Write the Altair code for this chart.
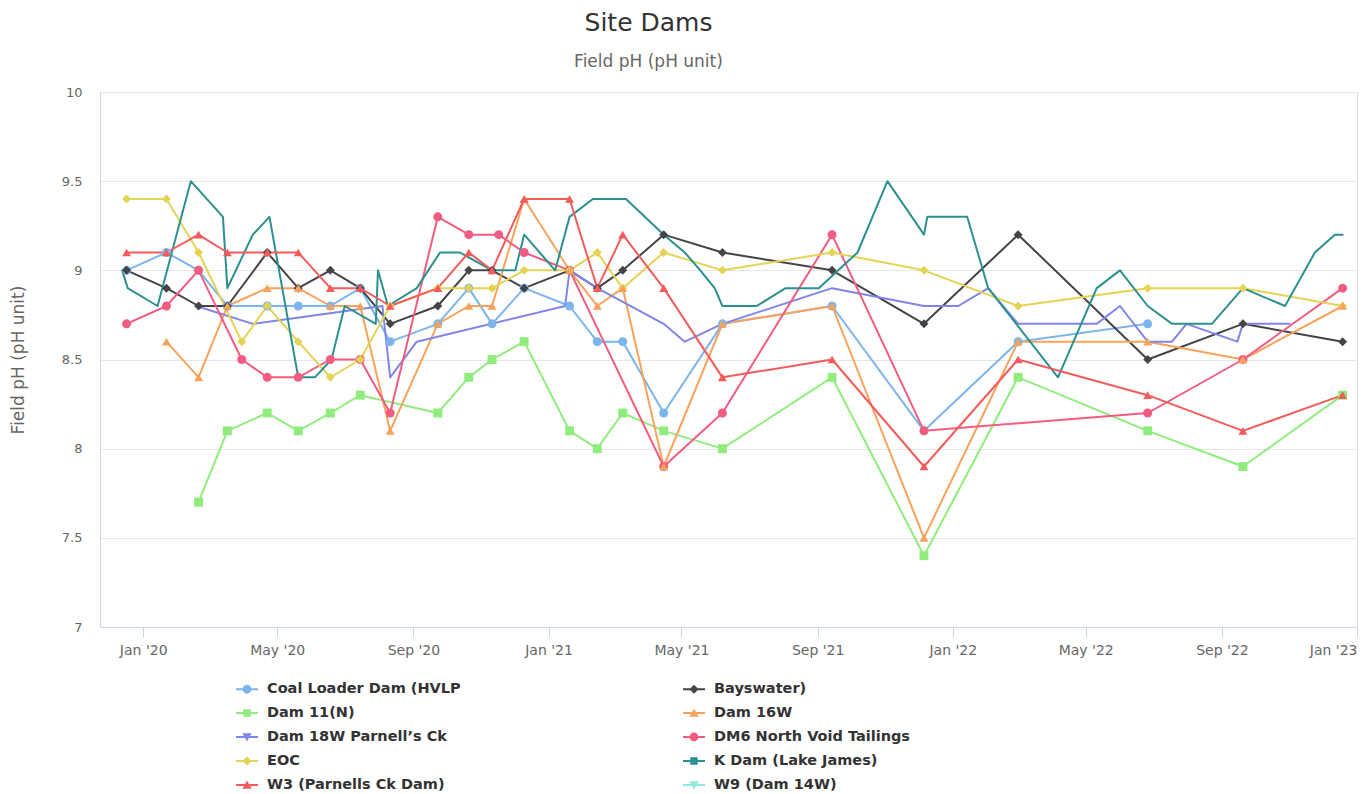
import altair as alt
import pandas as pd

# ---------------- data ----------------
series_names = [
    "Coal Loader Dam (HVLP", "Bayswater)", "Dam 11(N)", "Dam 16W",
    "Dam 18W Parnell\u2019s Ck", "DM6 North Void Tailings", "EOC",
    "K Dam (Lake James)", "W3 (Parnells Ck Dam)", "W9 (Dam 14W)",
]
series_colors = ["#7cb5ec", "#434348", "#90ed7d", "#f7a35c", "#8085e9",
                 "#f15c80", "#e4d354", "#2b908f", "#f45b5b", "#91e8e1"]
point_shapes = ["circle", "diamond", "square", "triangle-up", "triangle-down",
                "circle", "diamond", "square", "triangle-up", "triangle-down"]
# legend symbols: short line (thin filled bar) with marker, all drawn clockwise
BAR = "M-1,-0.09H1V0.09H-1Z"
shape_paths = {
    "circle": "M-0.4,0A0.4,0.4,0,1,1,0.4,0A0.4,0.4,0,1,1,-0.4,0Z",
    "diamond": "M0,-0.42L0.42,0L0,0.42L-0.42,0Z",
    "square": "M-0.34,-0.34H0.34V0.34H-0.34Z",
    "triangle-up": "M0,-0.42L0.42,0.34L-0.42,0.34Z",
    "triangle-down": "M0,0.42L-0.42,-0.34L0.42,-0.34Z",
}
legend_paths = [BAR + shape_paths[s] for s in point_shapes]
dense_series = ["Dam 18W Parnell\u2019s Ck", "K Dam (Lake James)"]

coal_dates = ["2019-12-17", "2020-01-22", "2020-02-20", "2020-03-17", "2020-04-22",
              "2020-05-20", "2020-06-18", "2020-07-15", "2020-08-11", "2020-09-23",
              "2020-10-21", "2020-11-11", "2020-12-10", "2021-01-20", "2021-02-14",
              "2021-03-09", "2021-04-15", "2021-06-07", "2021-09-14", "2021-12-06",
              "2022-03-01", "2022-06-26"]
coal_ph = [9.0, 9.1, 9.0, 8.8, 8.8, 8.8, 8.8, 8.9, 8.6, 8.7, 8.9, 8.7, 8.9, 8.8,
           8.6, 8.6, 8.2, 8.7, 8.8, 8.1, 8.6, 8.7]

bays_dates = ["2019-12-17", "2020-01-22", "2020-02-20", "2020-03-17", "2020-04-22",
              "2020-05-20", "2020-06-18", "2020-07-15", "2020-08-11", "2020-09-23",
              "2020-10-21", "2020-11-11", "2020-12-10", "2021-01-20", "2021-02-14",
              "2021-03-09", "2021-04-15", "2021-06-07", "2021-09-14", "2021-12-06",
              "2022-03-01", "2022-06-26", "2022-09-20", "2022-12-19"]
bays_ph = [9.0, 8.9, 8.8, 8.8, 9.1, 8.9, 9.0, 8.9, 8.7, 8.8, 9.0, 9.0, 8.9, 9.0,
           8.9, 9.0, 9.2, 9.1, 9.0, 8.7, 9.2, 8.5, 8.7, 8.6]

d11_dates = ["2020-02-20", "2020-03-17", "2020-04-22", "2020-05-20", "2020-06-18",
             "2020-07-15", "2020-09-23", "2020-10-21", "2020-11-11", "2020-12-10",
             "2021-01-20", "2021-02-14", "2021-03-09", "2021-04-15", "2021-06-07",
             "2021-09-14", "2021-12-06", "2022-03-01", "2022-06-26", "2022-09-20",
             "2022-12-19"]
d11_ph = [7.7, 8.1, 8.2, 8.1, 8.2, 8.3, 8.2, 8.4, 8.5, 8.6, 8.1, 8.0, 8.2, 8.1,
          8.0, 8.4, 7.4, 8.4, 8.1, 7.9, 8.3]

d16_dates = ["2020-01-22", "2020-02-20", "2020-03-17", "2020-04-22", "2020-05-20",
             "2020-06-18", "2020-07-15", "2020-08-11", "2020-09-23", "2020-10-21",
             "2020-11-11", "2020-12-10", "2021-01-20", "2021-02-14", "2021-03-09",
             "2021-04-15", "2021-06-07", "2021-09-14", "2021-12-06", "2022-03-01",
             "2022-06-26", "2022-09-20", "2022-12-19"]
d16_ph = [8.6, 8.4, 8.8, 8.9, 8.9, 8.8, 8.8, 8.1, 8.7, 8.8, 8.8, 9.4, 9.0, 8.8,
          8.9, 7.9, 8.7, 8.8, 7.5, 8.6, 8.6, 8.5, 8.8]

d18_dates = ["2020-02-18", "2020-04-09", "2020-08-04", "2020-08-11", "2020-09-04",
             "2021-01-16", "2021-01-20", "2021-02-14", "2021-04-15", "2021-05-04",
             "2021-06-07", "2021-09-14", "2021-12-06", "2022-01-06", "2022-02-02",
             "2022-03-01", "2022-05-11", "2022-06-01", "2022-06-26", "2022-07-18",
             "2022-07-31", "2022-09-15", "2022-09-20", "2022-11-01"]
d18_ph = [8.8, 8.7, 8.8, 8.4, 8.6, 8.8, 9.0, 8.9, 8.7, 8.6, 8.7, 8.9, 8.8, 8.8,
          8.9, 8.7, 8.7, 8.8, 8.6, 8.6, 8.7, 8.6, 8.7, 8.7]

dm6_dates = ["2019-12-17", "2020-01-22", "2020-02-20", "2020-03-30", "2020-04-22",
             "2020-05-20", "2020-06-18", "2020-07-15", "2020-08-11", "2020-09-23",
             "2020-10-21", "2020-11-17", "2020-12-10", "2021-01-20", "2021-04-15",
             "2021-06-07", "2021-09-14", "2021-12-06", "2022-06-26", "2022-09-20",
             "2022-12-19"]
dm6_ph = [8.7, 8.8, 9.0, 8.5, 8.4, 8.4, 8.5, 8.5, 8.2, 9.3, 9.2, 9.2, 9.1, 9.0,
          7.9, 8.2, 9.2, 8.1, 8.2, 8.5, 8.9]

eoc_dates = ["2019-12-17", "2020-01-22", "2020-02-20", "2020-03-30", "2020-04-22",
             "2020-05-20", "2020-06-18", "2020-07-15", "2020-08-11", "2020-09-23",
             "2020-10-21", "2020-11-11", "2020-12-10", "2021-01-20", "2021-02-14",
             "2021-03-09", "2021-04-15", "2021-06-07", "2021-09-14", "2021-12-06",
             "2022-03-01", "2022-06-26", "2022-09-20", "2022-12-19"]
eoc_ph = [9.4, 9.4, 9.1, 8.6, 8.8, 8.6, 8.4, 8.5, 8.8, 8.9, 8.9, 8.9, 9.0, 9.0,
          9.1, 8.9, 9.1, 9.0, 9.1, 9.0, 8.8, 8.9, 8.9, 8.8]

kdam_dates = ["2019-12-13", "2019-12-18", "2020-01-14", "2020-02-13", "2020-03-13",
              "2020-03-17", "2020-04-09", "2020-04-24", "2020-05-20", "2020-06-04",
              "2020-06-19", "2020-07-01", "2020-07-29", "2020-07-31", "2020-08-09",
              "2020-09-04", "2020-09-25", "2020-10-13", "2020-11-11", "2020-12-02",
              "2020-12-10", "2021-01-07", "2021-01-20", "2021-02-10", "2021-03-12",
              "2021-04-15", "2021-05-04", "2021-05-18", "2021-05-31", "2021-06-07",
              "2021-07-08", "2021-08-03", "2021-09-02", "2021-10-07", "2021-11-03",
              "2021-12-06", "2021-12-09", "2022-01-14", "2022-02-02", "2022-04-06",
              "2022-05-11", "2022-06-01", "2022-06-26", "2022-07-18", "2022-08-23",
              "2022-09-20", "2022-10-28", "2022-11-24", "2022-12-12", "2022-12-19"]
kdam_ph = [9.0, 8.9, 8.8, 9.5, 9.3, 8.9, 9.2, 9.3, 8.4, 8.4, 8.5, 8.8, 8.7, 9.0,
           8.8, 8.9, 9.1, 9.1, 9.0, 9.0, 9.2, 9.0, 9.3, 9.4, 9.4, 9.2, 9.1, 9.0,
           8.9, 8.8, 8.8, 8.9, 8.9, 9.1, 9.5, 9.2, 9.3, 9.3, 8.9, 8.4, 8.9, 9.0,
           8.8, 8.7, 8.7, 8.9, 8.8, 9.1, 9.2, 9.2]

w3_dates = ["2019-12-17", "2020-01-22", "2020-02-20", "2020-03-17", "2020-04-22",
            "2020-05-20", "2020-06-18", "2020-07-15", "2020-08-11", "2020-09-23",
            "2020-10-21", "2020-11-11", "2020-12-10", "2021-01-20", "2021-02-14",
            "2021-03-09", "2021-04-15", "2021-06-07", "2021-09-14", "2021-12-06",
            "2022-03-01", "2022-06-26", "2022-09-20", "2022-12-19"]
w3_ph = [9.1, 9.1, 9.2, 9.1, 9.1, 9.1, 8.9, 8.9, 8.8, 8.9, 9.1, 9.0, 9.4, 9.4,
         8.9, 9.2, 8.9, 8.4, 8.5, 7.9, 8.5, 8.3, 8.1, 8.3]

w9_dates = []
w9_ph = []

x_ticks = ["2020-01-01", "2020-05-01", "2020-09-01", "2021-01-01", "2021-05-01",
           "2021-09-01", "2022-01-01", "2022-05-01", "2022-09-01", "2023-01-01"]
y_ticks = [7, 7.5, 8, 8.5, 9, 9.5, 10]

# ---------------- table ----------------
all_series = [
    (series_names[0], coal_dates, coal_ph),
    (series_names[1], bays_dates, bays_ph),
    (series_names[2], d11_dates, d11_ph),
    (series_names[3], d16_dates, d16_ph),
    (series_names[4], d18_dates, d18_ph),
    (series_names[5], dm6_dates, dm6_ph),
    (series_names[6], eoc_dates, eoc_ph),
    (series_names[7], kdam_dates, kdam_ph),
    (series_names[8], w3_dates, w3_ph),
    (series_names[9], w9_dates, w9_ph),
]
rows = []
for i, (name, ds, vs) in enumerate(all_series):
    for d, v in zip(ds, vs):
        rows.append({"site": name, "order": i, "date": d, "ph": v})
df = pd.DataFrame(rows)


def dt(s):
    y, m, d = (int(p) for p in s.split("-"))
    return alt.DateTime(year=y, month=m, date=d, utc=True)


FONT = "DejaVu Sans"

x_enc = alt.X(
    "date:T",
    scale=alt.Scale(type="utc", domain=[dt("2019-11-23"), dt("2023-01-01")]),
    axis=alt.Axis(
        values=[dt(t) for t in x_ticks], format="%b '%y", title=None,
        grid=False, domainColor="#ccd6eb", tickColor="#ccd6eb", tickSize=10,
        labelColor="#666666", labelFontSize=14, labelFont=FONT, labelPadding=6,
        labelFlush=True, labelOverlap=False,
    ),
)
y_enc = alt.Y(
    "ph:Q",
    scale=alt.Scale(domain=[7, 10], nice=False, zero=False),
    axis=alt.Axis(
        values=y_ticks, format=".1~f", title="Field pH (pH unit)",
        titleColor="#666666", titleFontSize=17, titleFont=FONT,
        titleFontWeight="normal", titlePadding=34,
        labelColor="#666666", labelFontSize=13, labelFont=FONT, labelPadding=18,
        ticks=False, domainColor="#ccd6eb", gridColor="#e6e6e6",
    ),
)
color_scale = alt.Scale(domain=series_names, range=series_colors)

lines = alt.Chart(df).mark_line(strokeWidth=2, strokeJoin="round", strokeCap="round").encode(
    x=x_enc, y=y_enc,
    color=alt.Color("site:N", scale=color_scale, legend=None),
    detail="site:N",
)

# one point layer per marker shape (dense series show no markers)
point_layers = []
for shp in ["circle", "diamond", "square", "triangle-up", "triangle-down"]:
    members = [n for n, s in zip(series_names, point_shapes)
               if s == shp and n not in dense_series]
    point_layers.append(
        alt.Chart(df).transform_filter(
            alt.FieldOneOfPredicate(field="site", oneOf=members)
        ).mark_point(filled=True, opacity=1, size=80, shape=shp).encode(
            x=x_enc, y=y_enc,
            color=alt.Color("site:N", scale=color_scale, legend=None),
        )
    )

legend_kw = dict(
    title=None, orient="none", legendX=136, legendY=586, columns=2,
    direction="horizontal", columnPadding=222, rowPadding=6,
    symbolSize=484, symbolStrokeWidth=0,
    labelFontSize=14.5, labelFont=FONT, labelFontWeight="bold",
    labelColor="#333333", labelOffset=9, labelLimit=400,
)
legend_layer = alt.Chart(df).transform_filter("false").mark_point(
    filled=True, opacity=1
).encode(
    x=x_enc, y=y_enc,
    color=alt.Color("site:N", scale=color_scale, legend=alt.Legend(**legend_kw)),
    shape=alt.Shape("site:N", scale=alt.Scale(domain=series_names, range=legend_paths),
                    legend=alt.Legend(**legend_kw)),
)

chart = alt.layer(lines, *point_layers, legend_layer).resolve_legend(
    color="independent", shape="independent"
).properties(
    width=1257, height=535,
    autosize=alt.AutoSizeParams(type="none"),
    padding={"left": 92, "top": 84, "right": 5, "bottom": 167},
    title=alt.TitleParams(
        "Site Dams", subtitle="Field pH (pH unit)", anchor="middle", dx=-80,
        font=FONT, fontSize=25, fontWeight="normal", color="#333333",
        subtitleFont=FONT, subtitleFontSize=17, subtitleColor="#666666",
        subtitlePadding=18, offset=16,
    ),
).configure_view(stroke=None).configure(background="white")

chart.save("out.html", embed_options={"renderer": "svg", "actions": False})
